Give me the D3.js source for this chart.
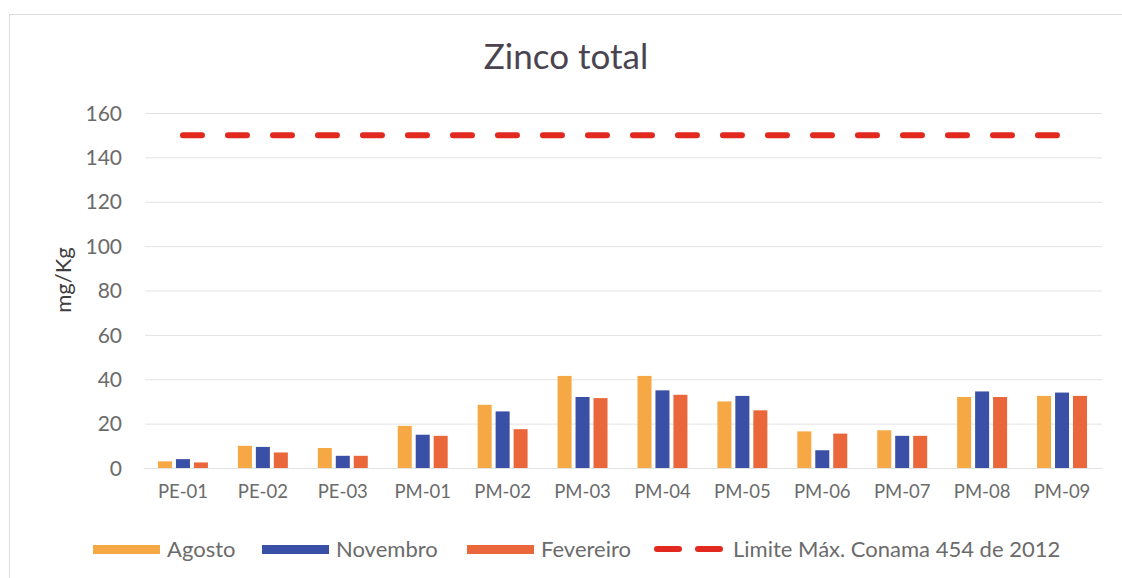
<!DOCTYPE html>
<html>
<head>
<meta charset="utf-8">
<script src="https://cdn.jsdelivr.net/npm/d3@7"></script>
<style>
  body { margin: 0; background: #fff; }
  svg text { font-family: Lato, "Open Sans", sans-serif; fill: #595959; }
</style>
</head>
<body>
<svg id="chart" width="1122" height="578"></svg>
<script>
const width = 1122, height = 578;

const categories = ["PE-01", "PE-02", "PE-03", "PM-01", "PM-02", "PM-03", "PM-04", "PM-05", "PM-06", "PM-07", "PM-08", "PM-09"];
const seriesNames = ["Agosto", "Novembro", "Fevereiro"];
const agosto    = [3, 10, 9, 19, 28.5, 41.5, 41.5, 30, 16.5, 17, 32, 32.5];
const novembro  = [4, 9.5, 5.5, 15, 25.5, 32, 35, 32.5, 8, 14.5, 34.5, 34];
const fevereiro = [2.5, 7, 5.5, 14.5, 17.5, 31.5, 33, 26, 15.5, 14.5, 32, 32.5];
const limite = 150;
const limiteName = "Limite Máx. Conama 454 de 2012";
const yTicks = [0, 20, 40, 60, 80, 100, 120, 140, 160];
const colors = ["#f5a843", "#3a50a6", "#e9673a"];
const limitColor = "#e2291f";

const series = [agosto, novembro, fevereiro];
const rows = categories.map((c, i) => ({ cat: c, values: series.map((s, k) => ({ k, v: s[i] })) }));

const svg = d3.select("#chart");

// frame
svg.append("rect")
  .attr("x", 9.5).attr("y", 14.5)
  .attr("width", 1130).attr("height", 600)
  .attr("fill", "none").attr("stroke", "#dcdcdc");

const x0 = d3.scaleBand().domain(categories).range([143, 1102]).paddingInner(0.375).paddingOuter(0.1875);
const x1 = d3.scaleBand().domain(d3.range(3)).range([0, x0.bandwidth()]).paddingInner(0.22);
const y = d3.scaleLinear().domain([0, 160]).range([468, 113]);

// gridlines + y labels
const yAxis = svg.append("g")
  .attr("transform", "translate(145,0)")
  .call(d3.axisLeft(y).tickValues(yTicks).tickSize(-(1102 - 145)).tickPadding(23));
yAxis.select(".domain").remove();
yAxis.selectAll(".tick line").attr("stroke", "#e3e3e3");
yAxis.selectAll(".tick text").style("font-size", "21px").style("fill", "#6b6b6b").attr("dy", "0.34em");

// x labels
const xAxis = svg.append("g")
  .attr("transform", "translate(0,468)")
  .call(d3.axisBottom(x0).tickSize(0).tickPadding(17));
xAxis.select(".domain").attr("stroke", "#e3e3e3");
xAxis.selectAll(".tick text").style("font-size", "18.5px").style("fill", "#6b6b6b");

// bars
svg.append("g")
  .selectAll("g")
  .data(rows)
  .join("g")
  .attr("transform", d => `translate(${x0(d.cat)},0)`)
  .selectAll("rect")
  .data(d => d.values)
  .join("rect")
  .attr("x", d => x1(d.k))
  .attr("y", d => y(d.v))
  .attr("width", x1.bandwidth())
  .attr("height", d => y(0) - y(d.v))
  .attr("fill", d => colors[d.k]);

// limit line
const lineData = categories.map(c => ({ cat: c, v: limite }));
svg.append("path")
  .datum(lineData)
  .attr("fill", "none")
  .attr("stroke", limitColor)
  .attr("stroke-width", 6)
  .attr("stroke-linecap", "round")
  .attr("stroke-dasharray", "19 26")
  .attr("d", d3.line().x(d => x0(d.cat) + x0.bandwidth() / 2).y(d => y(d.v)));

// title
svg.append("text")
  .attr("x", 566).attr("y", 69)
  .attr("text-anchor", "middle")
  .style("font-size", "35px")
  .style("fill", "#4a4450")
  .text("Zinco total");

// y title
svg.append("text")
  .attr("transform", "translate(71,280) rotate(-90)")
  .attr("text-anchor", "middle")
  .style("font-size", "22px")
  .style("fill", "#404040")
  .text("mg/Kg");

// legend
const legendX = [93, 262, 467];
const legend = svg.append("g").attr("transform", "translate(0,549)");
seriesNames.forEach((name, i) => {
  legend.append("rect")
    .attr("x", legendX[i]).attr("y", -4)
    .attr("width", 67).attr("height", 9)
    .attr("fill", colors[i]);
  legend.append("text")
    .attr("x", legendX[i] + 74).attr("y", 0).attr("dy", "0.35em")
    .style("font-size", "22px").style("fill", "#6b6b6b")
    .text(name);
});
legend.append("line")
  .attr("x1", 657).attr("x2", 724).attr("y1", 0).attr("y2", 0)
  .attr("stroke", limitColor).attr("stroke-width", 6)
  .attr("stroke-linecap", "round").attr("stroke-dasharray", "22 19");
legend.append("text")
  .attr("x", 733).attr("y", 0).attr("dy", "0.35em")
  .style("font-size", "22px").style("fill", "#6b6b6b")
  .text(limiteName);
</script>
</body>
</html>
